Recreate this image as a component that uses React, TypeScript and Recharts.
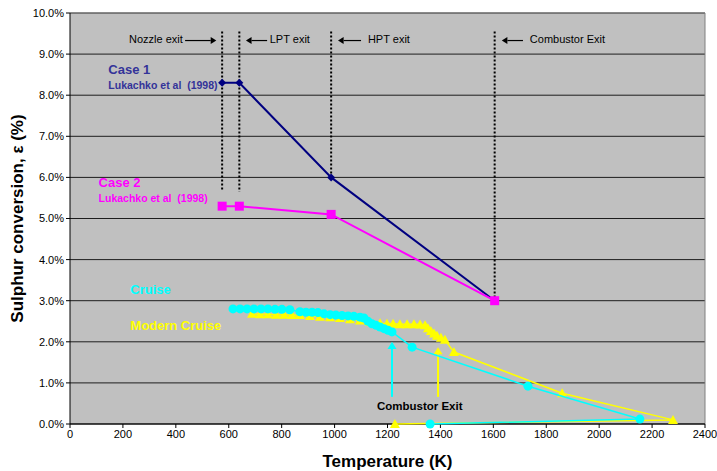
import React from "react";
import {
  ScatterChart,
  Scatter,
  XAxis,
  YAxis,
  CartesianGrid,
  ReferenceLine,
  ReferenceDot,
} from "recharts";

const xTicks = [0, 200, 400, 600, 800, 1000, 1200, 1400, 1600, 1800, 2000, 2200, 2400];
const yTicks = [0, 1, 2, 3, 4, 5, 6, 7, 8, 9, 10];

// Lukachko et al (1998)
const case1Temp = [575, 640, 987, 1605];
const case1Conv = [8.3, 8.3, 6.0, 3.0];
const case2Temp = [575, 640, 987, 1605];
const case2Conv = [5.3, 5.3, 5.1, 3.0];

const cruiseTemp = [
  616, 643, 669, 695, 722, 748, 775, 801, 831, 869, 892, 915, 937, 960, 983, 1005, 1028,
  1051, 1073, 1096, 1111, 1126, 1141, 1157, 1172, 1187, 1202, 1217, 1293, 1731, 2154, 1361,
];
const cruiseConv = [
  2.8, 2.8, 2.8, 2.8, 2.8, 2.8, 2.79, 2.79, 2.78, 2.73, 2.72, 2.72, 2.71, 2.68, 2.66, 2.65,
  2.64, 2.63, 2.62, 2.6, 2.58, 2.5, 2.44, 2.4, 2.36, 2.32, 2.28, 2.24, 1.87, 0.92, 0.12, 0.0,
];

const modernTemp = [
  688, 718, 748, 779, 809, 839, 869, 907, 945, 983, 1020, 1058, 1096, 1134, 1172, 1198, 1221,
  1247, 1274, 1300, 1323, 1342, 1353, 1364, 1376, 1387, 1402, 1417, 1451, 1860, 2279, 1228,
];
const modernConv = [
  2.68, 2.67, 2.67, 2.66, 2.66, 2.65, 2.65, 2.63, 2.61, 2.6, 2.58, 2.55, 2.52, 2.48, 2.45,
  2.44, 2.44, 2.43, 2.43, 2.43, 2.42, 2.4, 2.33, 2.26, 2.2, 2.15, 2.1, 2.05, 1.75, 0.75, 0.1,
  0.0,
];

// engine stations (dotted markers)
const stationNames = ["Nozzle exit", "LPT exit", "HPT exit", "Combustor Exit"];
const stationTemp = [575, 640, 987, 1605];
const stationBottom = [5.7, 5.65, 6.0, 3.0];
const stationTop = 9.55;
const labelY = 9.33;

const zip = (xs: number[], ys: number[]) => xs.map((x, i) => ({ t: x, c: ys[i] }));

const FONT = "'Liberation Sans', Arial, sans-serif";

const marker = (kind: string, color: string, s: number) => (p: any) => {
  const { cx, cy } = p;
  if (kind === "circle") return <circle cx={cx} cy={cy} r={s} fill={color} />;
  if (kind === "square")
    return <rect x={cx - s} y={cy - s} width={s * 2} height={s * 2} fill={color} />;
  if (kind === "diamond")
    return (
      <polygon
        points={`${cx},${cy - s} ${cx + s},${cy} ${cx},${cy + s} ${cx - s},${cy}`}
        fill={color}
      />
    );
  return (
    <polygon
      points={`${cx},${cy - s} ${cx + s},${cy + s * 0.8} ${cx - s},${cy + s * 0.8}`}
      fill={color}
    />
  );
};

// line with an arrow head at (x2, y2)
const arrow = (color: string, width: number, head: number) => (p: any) => {
  const { x1, y1, x2, y2 } = p;
  const dx = x2 - x1;
  const dy = y2 - y1;
  const len = Math.sqrt(dx * dx + dy * dy) || 1;
  const ux = dx / len;
  const uy = dy / len;
  const bx = x2 - ux * head * 1.6;
  const by = y2 - uy * head * 1.6;
  return (
    <g>
      <line x1={x1} y1={y1} x2={bx} y2={by} stroke={color} strokeWidth={width} />
      <polygon
        points={`${x2},${y2} ${bx - uy * head},${by + ux * head} ${bx + uy * head},${by - ux * head}`}
        fill={color}
      />
    </g>
  );
};

const textAt = (txt: string, color: string, size: number, bold = true) => (p: any) => (
  <text
    x={p.cx}
    y={p.cy}
    fill={color}
    fontSize={size}
    fontWeight={bold ? 700 : 400}
    fontFamily={FONT}
    dominantBaseline="middle"
    style={{ whiteSpace: "pre" }}
  >
    {txt}
  </text>
);

const refName = "Lukachko et al\u00a0\u00a0(1998)";

export default function App() {
  return (
    <div style={{ width: 717, height: 471 }}>
      <style>{`body{margin:0}`}</style>
      <ScatterChart
        width={717}
        height={471}
        margin={{ top: 13, right: 12, bottom: 0, left: 0 }}
        style={{ fontFamily: FONT }}
      >
        <CartesianGrid
          vertical={false}
          stroke="#000"
          strokeOpacity={0.85}
          fill="#C0C0C0"
          strokeDasharray=""
        />
        <XAxis
          type="number"
          dataKey="t"
          domain={[0, 2400]}
          ticks={xTicks}
          interval={0}
          height={47}
          stroke="#000"
          tickSize={4}
          tick={{ fontSize: 11, fill: "#000", fontFamily: FONT }}
          label={{
            value: "Temperature (K)",
            position: "insideBottom",
            offset: 4,
            style: { fontSize: 17, fontWeight: 700, fill: "#000", fontFamily: FONT },
          }}
        />
        <YAxis
          type="number"
          dataKey="c"
          domain={[0, 10]}
          ticks={yTicks}
          interval={0}
          width={70}
          stroke="#000"
          tickSize={4}
          tickFormatter={(v: number) => `${v.toFixed(1)}%`}
          tick={{ fontSize: 11, fill: "#000", fontFamily: FONT }}
          label={{
            value: "Sulphur conversion, ε (%)",
            angle: -90,
            position: "insideLeft",
            offset: 17,
            style: {
              fontSize: 17,
              fontWeight: 700,
              fill: "#000",
              fontFamily: FONT,
              textAnchor: "middle",
            },
          }}
        />
        <ReferenceLine x={2400} stroke="#808080" strokeWidth={1} />
        <ReferenceLine y={10} stroke="#808080" strokeWidth={1} />

        {stationTemp.map((t, i) => (
          <ReferenceLine
            key={stationNames[i]}
            segment={[
              { x: t, y: stationTop },
              { x: t, y: stationBottom[i] },
            ]}
            stroke="#000"
            strokeWidth={2}
            strokeDasharray="2 2"
          />
        ))}

        {/* station labels and arrows */}
        <ReferenceLine
          segment={[
            { x: 435, y: labelY },
            { x: 553, y: labelY },
          ]}
          shape={arrow("#000", 1.2, 3.5)}
        />
        <ReferenceLine
          segment={[
            { x: 745, y: labelY },
            { x: 665, y: labelY },
          ]}
          shape={arrow("#000", 1.2, 3.5)}
        />
        <ReferenceLine
          segment={[
            { x: 1100, y: labelY },
            { x: 1013, y: labelY },
          ]}
          shape={arrow("#000", 1.2, 3.5)}
        />
        <ReferenceLine
          segment={[
            { x: 1712, y: labelY },
            { x: 1632, y: labelY },
          ]}
          shape={arrow("#000", 1.2, 3.5)}
        />
        <ReferenceDot x={223} y={labelY} shape={textAt(stationNames[0], "#000", 11, false)} />
        <ReferenceDot x={755} y={labelY} shape={textAt(stationNames[1], "#000", 11, false)} />
        <ReferenceDot x={1126} y={labelY} shape={textAt(stationNames[2], "#000", 11, false)} />
        <ReferenceDot x={1738} y={labelY} shape={textAt(stationNames[3], "#000", 11, false)} />

        {/* series labels */}
        <ReferenceDot x={145} y={8.6} shape={textAt("Case 1", "#333399", 13)} />
        <ReferenceDot x={145} y={8.22} shape={textAt(refName, "#333399", 10.5)} />
        <ReferenceDot x={108} y={5.85} shape={textAt("Case 2", "#FF00FF", 13)} />
        <ReferenceDot x={108} y={5.47} shape={textAt(refName, "#FF00FF", 10.5)} />
        <ReferenceDot x={228} y={3.25} shape={textAt("Cruise", "#00FFFF", 13)} />
        <ReferenceDot x={228} y={2.38} shape={textAt("Modern Cruise", "#FFFF00", 13)} />

        {/* combustor exit arrows for cruise cases */}
        <ReferenceLine
          segment={[
            { x: 1217, y: 0.66 },
            { x: 1217, y: 2.0 },
          ]}
          shape={arrow("#00FFFF", 2, 4.5)}
        />
        <ReferenceLine
          segment={[
            { x: 1391, y: 0.66 },
            { x: 1391, y: 1.87 },
          ]}
          shape={arrow("#FFFF00", 2, 4.5)}
        />
        <ReferenceDot x={1160} y={0.42} shape={textAt("Combustor Exit", "#000", 11.5)} />

        <Scatter
          data={zip(modernTemp, modernConv)}
          line={{ stroke: "#FFFF00", strokeWidth: 1.5 }}
          lineType="joint"
          shape={marker("triangle", "#FFFF00", 5)}
          isAnimationActive={false}
        />
        <Scatter
          data={zip(cruiseTemp, cruiseConv)}
          line={{ stroke: "#00FFFF", strokeWidth: 1.5 }}
          lineType="joint"
          shape={marker("circle", "#00FFFF", 4.5)}
          isAnimationActive={false}
        />
        <Scatter
          data={zip(case1Temp, case1Conv)}
          line={{ stroke: "#000080", strokeWidth: 2 }}
          lineType="joint"
          shape={marker("diamond", "#000080", 4)}
          isAnimationActive={false}
        />
        <Scatter
          data={zip(case2Temp, case2Conv)}
          line={{ stroke: "#FF00FF", strokeWidth: 2 }}
          lineType="joint"
          shape={marker("square", "#FF00FF", 4.5)}
          isAnimationActive={false}
        />
      </ScatterChart>
    </div>
  );
}
